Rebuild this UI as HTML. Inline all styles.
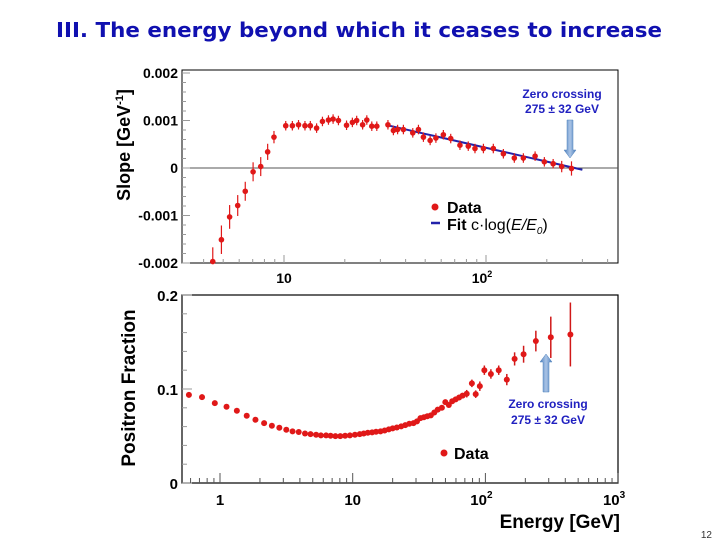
<!DOCTYPE html>
<html><head><meta charset="utf-8"><style>
body{margin:0;background:#fff}
svg{display:block;font-family:"Liberation Sans",sans-serif}
</style></head><body>
<svg id="c" width="720" height="540" viewBox="0 0 720 540">
<defs><linearGradient id="ag" x1="0" x2="1"><stop offset="0" stop-color="#4f81bd"/><stop offset="0.5" stop-color="#a9c4e6"/><stop offset="1" stop-color="#4f81bd"/></linearGradient></defs>
<text x="359" y="37" text-anchor="middle" font-family="DejaVu Sans, sans-serif" font-weight="bold" font-size="20" fill="#1010b0" textLength="606" lengthAdjust="spacingAndGlyphs">III. The energy beyond which it ceases to increase</text>
<text x="712" y="538" text-anchor="end" font-size="10" fill="#333">12</text>
<g id="top"></g>
<g id="bot"></g>
</svg>
<script>
const slopeE=[4.44,4.90,5.38,5.90,6.43,7.03,7.67,8.30,8.92,10.2,11.0,11.8,12.7,13.5,14.5,15.5,16.6,17.5,18.6,20.4,21.8,22.9,24.5,25.7,27.2,28.8,32.7,34.8,36.5,39.0,43.4,46.3,49.0,52.9,56.5,61.5,66.9,74.3,81.7,88.2,97.1,108.7,121.9,138.1,153.1,175,194.5,215,237,265];
const slopeV=[-0.00197,-0.00151,-0.00103,-0.00079,-0.00049,-0.00008,0.00003,0.00034,0.00065,0.00089,0.00089,0.00091,0.00089,0.00089,0.00084,0.00098,0.00101,0.00103,0.00100,0.00090,0.00096,0.00100,0.00091,0.00101,0.00088,0.00088,0.00091,0.00079,0.00081,0.00081,0.00074,0.00081,0.00065,0.00058,0.00063,0.00070,0.00062,0.00048,0.00046,0.00041,0.00041,0.00041,0.00030,0.00021,0.00021,0.00025,0.00013,0.00009,0.00003,-0.00001];
const slopeErr=[0.0003,0.0003,0.00025,0.00022,0.0002,0.0002,0.0002,0.00017,0.00013,0.0001,0.0001,0.0001,0.0001,0.0001,0.0001,0.0001,0.0001,0.0001,0.0001,0.0001,0.0001,0.0001,0.0001,0.0001,0.0001,0.0001,0.0001,0.0001,0.0001,0.0001,0.0001,0.0001,0.0001,0.0001,0.0001,0.0001,0.0001,0.0001,0.0001,0.0001,0.0001,0.0001,0.0001,0.0001,0.0001,0.0001,0.0001,0.0001,0.00012,0.00015];
const fitC=0.00097, fitE0=275, fitRange=[32,300];
const slopeTicks=[-0.002,-0.001,0,0.001,0.002];
const slopeTickLabels=["-0.002","-0.001","0","0.001","0.002"];

const fracE=[0.583,0.732,0.914,1.12,1.34,1.59,1.85,2.15,2.46,2.80,3.16,3.52,3.92,4.37,4.81,5.30,5.76,6.30,6.81,7.41,8.06,8.77,9.53,10.4,11.3,12.1,13.0,14.0,15.0,16.2,17.4,18.7,20.0,21.5,23.2,24.9,26.7,28.7,30.5,32.4,34.4,36.5,38.8,41.2,43.7,47.0,49.9,53.0,56.2,59.7,63.4,67.3,72.3,79.1,84.5,90.8,98.2,110,126,145,166,194,240,311,437];
const fracV=[0.0938,0.0913,0.0850,0.0811,0.0768,0.0715,0.0673,0.0637,0.0609,0.0588,0.0566,0.0549,0.0542,0.0527,0.0520,0.0513,0.0506,0.0506,0.0503,0.0499,0.0499,0.0503,0.0506,0.0513,0.0520,0.0527,0.0535,0.0538,0.0545,0.0549,0.0559,0.0570,0.0581,0.0591,0.0602,0.0616,0.0630,0.0637,0.0655,0.069,0.070,0.071,0.072,0.075,0.078,0.080,0.086,0.083,0.087,0.089,0.091,0.093,0.095,0.106,0.0945,0.103,0.120,0.116,0.120,0.110,0.132,0.137,0.151,0.155,0.158,0.146];
const fracErr=[0.003,0.003,0.002,0.002,0.001,0.001,0.001,0.001,0.001,0.001,0.001,0.001,0.001,0.001,0.001,0.001,0.001,0.001,0.001,0.001,0.001,0.001,0.001,0.001,0.001,0.001,0.001,0.001,0.001,0.001,0.001,0.001,0.001,0.001,0.001,0.001,0.001,0.001,0.001,0.001,0.001,0.001,0.001,0.0015,0.0015,0.002,0.002,0.002,0.002,0.002,0.002,0.002,0.004,0.004,0.004,0.005,0.005,0.005,0.005,0.006,0.007,0.009,0.011,0.022,0.034];
const fracTicks=[0,0.1,0.2];
const fracTickLabels=["0","0.1","0.2"];
const energyTicks=[1,10,100,1000];

const NS="http://www.w3.org/2000/svg";
function mk(p,t,a,txt){const e=document.createElementNS(NS,t);for(const k in a)e.setAttribute(k,a[k]);if(txt!==undefined)e.textContent=txt;p.appendChild(e);return e;}

// ---------- top panel ----------
const T=document.getElementById('top');
const tx=e=>284+(Math.log10(e)-1)*202;
const ty=v=>168-v*47500;
let el=mk(T,'rect',{x:182,y:70,width:436,height:193,fill:'none',stroke:'#000','stroke-width':1});


el=mk(T,'line',{x1:182,x2:618,y1:ty(0),y2:ty(0),stroke:'#555','stroke-width':1});


for(let k=-10;k<=10;k++){const v=k*0.0002;const major=k%5===0;mk(T,'line',{x1:182,x2:major?190:186,y1:ty(v),y2:ty(v),stroke:'#999'});}
slopeTicks.forEach((v,i)=>{el=mk(T,'text',{x:178,y:ty(v)+5,'text-anchor':'end','font-size':14,'font-weight':'bold'},slopeTickLabels[i]);

});
[4,5,6,7,8,9,10,20,30,40,50,60,70,80,90,100,200,300,400].forEach(e=>{const x=tx(e);mk(T,'line',{x1:x,x2:x,y1:263,y2:(e===10||e===100)?255:259,stroke:'#999'});});
el=mk(T,'text',{x:tx(10),y:283,'text-anchor':'middle','font-size':14,'font-weight':'bold'},'10');


el=mk(T,'text',{x:tx(100)-4,y:283,'text-anchor':'middle','font-size':14,'font-weight':'bold'},'10');


mk(el,'tspan',{dy:-6,'font-size':9},'2');
el=mk(T,'text',{transform:'translate(130,145) rotate(-90)','text-anchor':'middle','font-size':18,'font-weight':'bold'},'Slope [GeV');


mk(el,'tspan',{dy:-7,'font-size':11},'-1');mk(el,'tspan',{dy:7},']');
let pts=[];for(let i=0;i<=20;i++){const e=fitRange[0]*Math.pow(fitRange[1]/fitRange[0],i/20);pts.push(tx(e)+','+ty(fitC*Math.log10(fitE0/e)));}
el=mk(T,'polyline',{points:pts.join(' '),fill:'none',stroke:'#2222aa','stroke-width':2});


slopeE.forEach((e,i)=>{const x=tx(e),y=ty(slopeV[i]),er=slopeErr[i]*47500;
const g=mk(T,'g',{});


mk(g,'line',{x1:x,x2:x,y1:Math.max(70,y-er),y2:Math.min(263,y+er),stroke:'#e01818','stroke-width':1.2});
mk(g,'circle',{cx:x,cy:y,r:2.8,fill:'#e01818'});});
el=mk(T,'circle',{cx:435,cy:207,r:3.5,fill:'#e01818'});


el=mk(T,'text',{x:447,y:213,'font-size':16,'font-weight':'bold'},'Data');


el=mk(T,'line',{x1:431,x2:440,y1:223,y2:223,stroke:'#2222aa','stroke-width':2.5});


el=mk(T,'text',{x:447,y:230,'font-size':16},'');


mk(el,'tspan',{'font-weight':'bold'},'Fit ');mk(el,'tspan',{},'c·log(');mk(el,'tspan',{'font-style':'italic'},'E/E');mk(el,'tspan',{'font-style':'italic','font-size':10,dy:4},'0');mk(el,'tspan',{dy:-4},')');
el=mk(T,'text',{x:562,y:98,'text-anchor':'middle','font-size':12,'font-weight':'bold',fill:'#2020c0'},'Zero crossing');


mk(T,'text',{x:562,y:113,'text-anchor':'middle','font-size':12,'font-weight':'bold',fill:'#2020c0'},'275 ± 32 GeV');
el=mk(T,'path',{d:'M567,120 h6 v30 h3 l-6,8 l-6,-8 h3 z',fill:'url(#ag)',stroke:'#4f81bd','stroke-width':0.5});



// ---------- bottom panel ----------
const B=document.getElementById('bot');
const bx=e=>220+Math.log10(e)*132.7;
const by=v=>483-v*940;
el=mk(B,'rect',{x:182,y:295,width:436,height:188,fill:'none',stroke:'#000','stroke-width':1.2});


for(let k=0;k<=20;k+=2){const v=k/100;mk(B,'line',{x1:182,x2:k%10===0?192:187,y1:by(v),y2:by(v),stroke:'#999'});}
fracTicks.forEach((v,i)=>{el=mk(B,'text',{x:178,y:by(v)+6,'text-anchor':'end','font-size':15,'font-weight':'bold'},fracTickLabels[i]);

});
[0.6,0.7,0.8,0.9,1,2,3,4,5,6,7,8,9,10,20,30,40,50,60,70,80,90,100,200,300,400,500,600,700,800,900,1000].forEach(e=>{const x=bx(e);const maj=energyTicks.includes(e);mk(B,'line',{x1:x,x2:x,y1:483,y2:maj?473:478,stroke:'#555'});});
energyTicks.forEach((e,i)=>{el=mk(B,'text',{x:bx(e)-(i>=2?4:0),y:505,'text-anchor':'middle','font-size':15,'font-weight':'bold'},i===0?'1':'10');


if(i>=2)mk(el,'tspan',{dy:-7,'font-size':10},String(i));});
el=mk(B,'text',{x:620,y:528,'text-anchor':'end','font-size':19,'font-weight':'bold'},'Energy [GeV]');


el=mk(B,'text',{transform:'translate(135,388) rotate(-90)','text-anchor':'middle','font-size':19,'font-weight':'bold'},'Positron Fraction');


fracE.forEach((e,i)=>{const x=bx(e),y=by(fracV[i]),er=fracErr[i]*940;
const g=mk(B,'g',{});


if(er>2.5)mk(g,'line',{x1:x,x2:x,y1:y-er,y2:y+er,stroke:'#d01818','stroke-width':1.5});
mk(g,'circle',{cx:x,cy:y,r:3,fill:'#e01818'});});
el=mk(B,'circle',{cx:444,cy:453,r:3.5,fill:'#e01818'});


el=mk(B,'text',{x:454,y:459,'font-size':16,'font-weight':'bold'},'Data');


el=mk(B,'path',{d:'M543,392 h6 v-30 h3 l-6,-8 l-6,8 h3 z',fill:'url(#ag)',stroke:'#4f81bd','stroke-width':0.5});


el=mk(B,'text',{x:548,y:408,'text-anchor':'middle','font-size':12,'font-weight':'bold',fill:'#2020c0'},'Zero crossing');


mk(B,'text',{x:548,y:424,'text-anchor':'middle','font-size':12,'font-weight':'bold',fill:'#2020c0'},'275 ± 32 GeV');
</script>
</body></html>
